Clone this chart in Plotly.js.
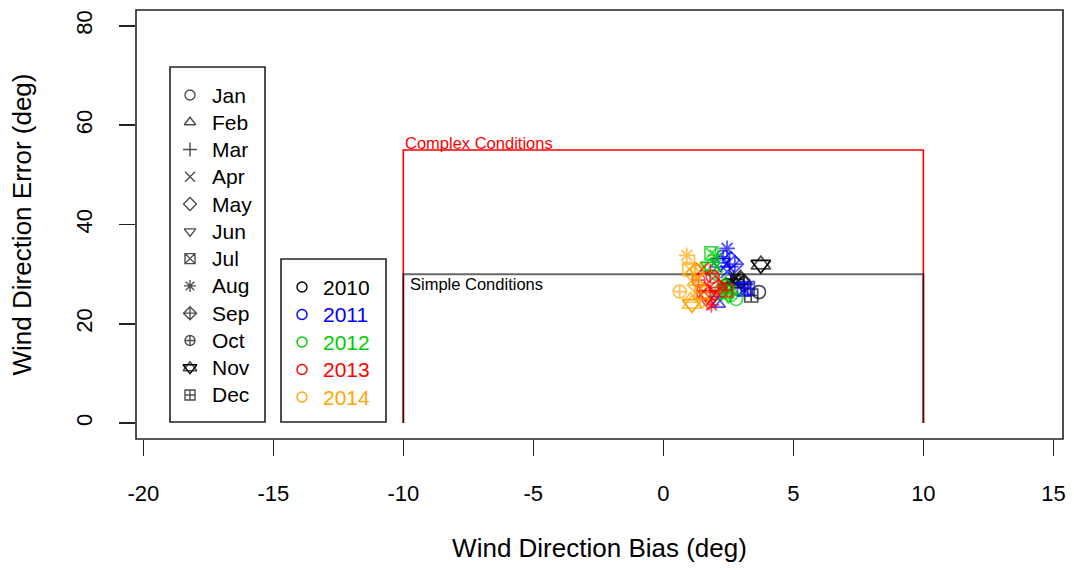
<!DOCTYPE html>
<html>
<head>
<meta charset="utf-8">
<script src="https://cdn.plot.ly/plotly-3.0.1.min.js"></script>
<style>html,body{margin:0;padding:0;background:#fff;}#chart{width:1074px;height:570px;}</style>
</head>
<body>
<div id="chart"></div>
<script>
// ---------------- data ----------------
const months = ['Jan','Feb','Mar','Apr','May','Jun','Jul','Aug','Sep','Oct','Nov','Dec'];
const years = ['2010','2011','2012','2013','2014'];

const bias2010  = [3.68, 2.90, 2.70, 2.75, 3.00, 2.50, 2.85, 2.60, 3.10, 2.45, 3.75, 3.38];
const error2010 = [26.4, 28.5, 29.0, 29.6, 28.8, 27.5, 28.6, 28.2, 28.0, 27.8, 31.9, 25.7];

const bias2011  = [2.90, 2.10, 2.55, 2.45, 2.60, 2.00, 3.10, 2.45, 2.75, 2.30, 2.20, 3.25];
const error2011 = [27.0, 24.0, 31.5, 30.5, 32.8, 24.8, 26.9, 35.2, 32.0, 33.5, 32.3, 27.2];

const bias2012  = [2.80, 2.00, 2.30, 2.20, 1.95, 2.50, 1.85, 2.00, 2.40, 2.60, 1.80, 2.45];
const error2012 = [25.0, 25.5, 26.8, 28.5, 30.5, 25.5, 34.2, 33.8, 27.5, 25.8, 31.5, 26.5];

const bias2013  = [1.90, 1.60, 1.80, 1.50, 2.00, 1.75, 1.55, 1.85, 2.10, 1.35, 1.70, 2.40];
const error2013 = [29.5, 27.0, 30.2, 31.0, 28.0, 24.2, 26.5, 23.8, 27.3, 28.8, 25.8, 26.8];

const bias2014  = [1.30, 1.05, 1.20, 1.35, 1.15, 1.50, 1.00, 0.90, 1.25, 0.63, 1.10, 1.45];
const error2014 = [30.5, 25.0, 32.0, 29.0, 30.0, 24.5, 31.0, 33.8, 27.8, 26.5, 24.0, 26.2];

// threshold regions
const regionBias = [-10, -10, 10, 10];
const simpleError = [0, 30, 30, 0];
const complexError = [0, 55, 55, 0];

const xTicks = [-20, -15, -10, -5, 0, 5, 10, 15];
const yTicks = [0, 20, 40, 60, 80];

// ---------------- styles ----------------
const yearColors = ['#000000', '#0000FF', '#00CD00', '#FF0000', '#FFA500'];
const monthSymbols = ['circle-open','triangle-up-open','cross-thin-open','x-thin-open','diamond-open',
  'triangle-down-open','square-x-open','asterisk-open','diamond-cross-open','circle-cross-open',
  'triangle-up-open','square-cross-open'];
const NOV = 10;
const FONT = 'Liberation Sans, Arial, Helvetica, sans-serif';

const biasByYear = [bias2010, bias2011, bias2012, bias2013, bias2014];
const errorByYear = [error2010, error2011, error2012, error2013, error2014];

const traces = [];

traces.push({x: regionBias, y: complexError, type: 'scatter', mode: 'lines',
  line: {color: '#FF0000', width: 1.6}, hoverinfo: 'skip'});
traces.push({x: regionBias, y: simpleError, type: 'scatter', mode: 'lines',
  line: {color: 'rgba(0,0,0,0.6)', width: 2}, hoverinfo: 'skip'});

const MSIZE = 13;
const sizesFor = (base, novSize) => months.map((m, k) => k === NOV ? novSize : base);
years.forEach((yr, i) => {
  traces.push({
    x: biasByYear[i], y: errorByYear[i], type: 'scatter', mode: 'markers', name: yr,
    marker: {symbol: monthSymbols, size: sizesFor(MSIZE, 17), color: yearColors[i],
      line: {color: yearColors[i], width: 1.7}},
    text: months, hovertemplate: yr + ' %{text}<br>bias %{x}<br>error %{y}<extra></extra>'
  });
  // second triangle for the Nov star
  traces.push({
    x: [biasByYear[i][NOV]], y: [errorByYear[i][NOV]], type: 'scatter', mode: 'markers',
    marker: {symbol: 'triangle-down-open', size: 17, color: yearColors[i],
      line: {color: yearColors[i], width: 1.7}}, hoverinfo: 'skip'
  });
});

// ---------------- legends (drawn on a pixel overlay axis) ----------------
const L1 = {x0: 170, x1: 265, y0: 67, y1: 422, symX: 190, textX: 210, firstY: 95, step: 27.27};
const L2 = {x0: 281, x1: 386, y0: 259, y1: 422, symX: 302, textX: 321, firstY: 287, step: 27.5};

const legMonthX = months.map(() => L1.symX);
const legMonthY = months.map((m, k) => L1.firstY + k * L1.step);
traces.push({x: legMonthX, y: legMonthY, xaxis: 'x2', yaxis: 'y2', type: 'scatter', mode: 'markers',
  marker: {symbol: monthSymbols, size: sizesFor(10, 12), color: '#000', line: {color: '#000', width: 1.4}}, hoverinfo: 'skip'});
traces.push({x: [L1.symX], y: [legMonthY[NOV]], xaxis: 'x2', yaxis: 'y2', type: 'scatter', mode: 'markers',
  marker: {symbol: 'triangle-down-open', size: 12, color: '#000', line: {color: '#000', width: 1.4}}, hoverinfo: 'skip'});

const legYearY = years.map((y, k) => L2.firstY + k * L2.step);
traces.push({x: years.map(() => L2.symX), y: legYearY, xaxis: 'x2', yaxis: 'y2', type: 'scatter', mode: 'markers',
  marker: {symbol: 'circle-open', size: 10, color: yearColors, line: {color: yearColors, width: 1.4}}, hoverinfo: 'skip'});

const annotations = [];
months.forEach((m, k) => annotations.push({xref: 'x2', yref: 'y2', x: L1.textX, y: legMonthY[k], text: m,
  showarrow: false, xanchor: 'left', yanchor: 'middle', font: {family: FONT, size: 21, color: '#000'}}));
years.forEach((y, k) => annotations.push({xref: 'x2', yref: 'y2', x: L2.textX, y: legYearY[k], text: y,
  showarrow: false, xanchor: 'left', yanchor: 'middle', font: {family: FONT, size: 21, color: yearColors[k]}}));

annotations.push({xref: 'x', yref: 'y', x: regionBias[1], y: complexError[1], text: 'Complex Conditions',
  showarrow: false, xanchor: 'left', yanchor: 'bottom', xshift: 0, yshift: -4,
  font: {family: FONT, size: 16.5, color: '#FF0000'}});
annotations.push({xref: 'x', yref: 'y', x: regionBias[1], y: simpleError[1], text: 'Simple Conditions',
  showarrow: false, xanchor: 'left', yanchor: 'top', xshift: 5, yshift: 1,
  font: {family: FONT, size: 16.5, color: '#000'}});

const layout = {
  width: 1074, height: 570,
  margin: {l: 136, r: 11, t: 10, b: 131},
  paper_bgcolor: '#fff', plot_bgcolor: '#fff',
  showlegend: false,
  font: {family: FONT, color: '#000'},
  xaxis: {range: [-20.28, 15.37], tickvals: xTicks, ticktext: xTicks.map(String),
    ticks: 'outside', ticklen: 16, tickwidth: 1.5, tickcolor: '#222',
    showgrid: false, zeroline: false, showline: false, automargin: false,
    tickfont: {family: FONT, size: 22, color: '#000'}, ticklabelstandoff: 19,
    title: {text: 'Wind Direction Bias (deg)', font: {family: FONT, size: 26, color: '#000'}, standoff: 33}},
  yaxis: {range: [-3.2, 83.2], tickvals: yTicks, ticktext: yTicks.map(String),
    ticks: 'outside', ticklen: 16, tickwidth: 1.5, tickcolor: '#222', tickangle: -90,
    showgrid: false, zeroline: false, showline: false, automargin: false,
    tickfont: {family: FONT, size: 22, color: '#000'}, ticklabelstandoff: 18,
    title: {text: 'Wind Direction Error (deg)', font: {family: FONT, size: 26, color: '#000'}, standoff: 33}},
  xaxis2: {overlaying: 'x', anchor: 'y2', range: [136, 1063], visible: false, fixedrange: true},
  yaxis2: {overlaying: 'y', anchor: 'x2', range: [439, 10], visible: false, fixedrange: true},
  shapes: [
    {type: 'rect', xref: 'paper', yref: 'paper', x0: 0, x1: 1, y0: 0, y1: 1, line: {color: '#222', width: 1.6}},
    {type: 'rect', xref: 'x2', yref: 'y2', x0: L1.x0, x1: L1.x1, y0: L1.y0, y1: L1.y1, line: {color: '#222', width: 1.6}},
    {type: 'rect', xref: 'x2', yref: 'y2', x0: L2.x0, x1: L2.x1, y0: L2.y0, y1: L2.y1, line: {color: '#222', width: 1.6}}
  ],
  annotations: annotations
};

Plotly.newPlot('chart', traces, layout, {displayModeBar: false, staticPlot: true});
</script>
</body>
</html>
